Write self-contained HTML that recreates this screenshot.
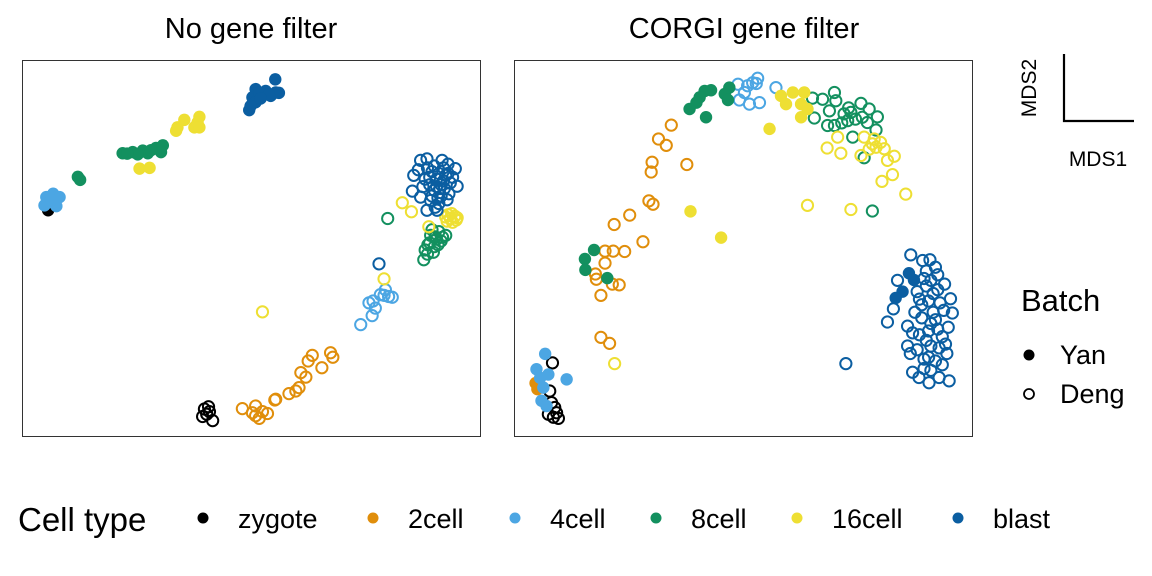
<!DOCTYPE html>
<html><head><meta charset="utf-8"><style>
body{margin:0;background:#fff;}
svg{display:block;font-family:"Liberation Sans",sans-serif;}
</style></head><body>
<svg id="chart" width="1152" height="576" xmlns="http://www.w3.org/2000/svg">
<text x="251" y="38" font-size="29" text-anchor="middle">No gene filter</text>
<text x="744" y="38" font-size="29" text-anchor="middle">CORGI gene filter</text>
<rect x="22.5" y="60.5" width="458" height="376" fill="none" stroke="#333" stroke-width="1"/>
<rect x="514.5" y="60.5" width="458" height="376" fill="none" stroke="#333" stroke-width="1"/>
<g id="left"></g>
<g id="right"></g>
<g>
<path d="M1064 54 V121 H1134" fill="none" stroke="#000" stroke-width="2.2"/>
<text x="1036" y="88" font-size="21" text-anchor="middle" transform="rotate(-90 1036 88)">MDS2</text>
<text x="1098" y="166" font-size="21" text-anchor="middle">MDS1</text>
</g>
<g>
<text x="1021" y="311" font-size="31">Batch</text>
<circle cx="1029" cy="355" r="5.5" fill="#000"/>
<text x="1060" y="364" font-size="27">Yan</text>
<circle cx="1029" cy="394" r="5" fill="none" stroke="#000" stroke-width="1.8"/>
<text x="1060" y="403" font-size="27">Deng</text>
</g>
<g id="ctleg">
<text x="18" y="531" font-size="33">Cell type</text>
</g>
</svg>
<script>
const cellTypes=["zygote","2cell","4cell","8cell","16cell","blast"];
const colors={"zygote":"#000000","2cell":"#E08E0B","4cell":"#4CA6E3","8cell":"#13905F","16cell":"#EEDF33","blast":"#0B5EA1"};
// Left panel (No gene filter), data units 0-100
const leftYan={
 zygote:[[5.5,60.2]],
 "4cell":[[5.1,63.7],[6.6,64.6],[8.0,63.7],[4.7,61.5],[7.3,61.3],[5.8,62.4],[6.2,63.0]],
 "8cell":[[21.8,75.4],[24.0,75.7],[26.2,76.1],[27.3,75.4],[29.1,76.8],[30.6,77.5],[30.2,75.7],[25.1,75.1],[12.0,69.1],[12.5,68.3],[28.0,76.2],[22.8,75.3]],
 "16cell":[[35.3,84.3],[33.8,82.3],[33.5,81.4],[38.6,85.1],[38.2,83.6],[37.5,82.3],[38.6,82.3],[25.5,71.3],[27.7,71.5]],
 blast:[[55.2,95.1],[50.9,92.5],[53.1,92.0],[55.3,91.6],[50.2,90.3],[52.4,91.2],[50.9,89.0],[49.5,86.9],[54.2,90.7],[51.7,91.6],[49.8,88.0],[56.0,91.5],[53.8,91.0],[52.0,90.0]]
};
const leftDeng={
 zygote:[[39.7,7.2],[40.8,6.5],[39.3,5.2],[41.5,4.1],[40.2,5.8],[40.6,7.8]],
 "2cell":[[67.3,22.2],[67.8,21.0],[63.3,21.5],[62.4,20.0],[65.4,18.2],[60.8,16.9],[61.9,15.7],[60.4,12.9],[59.7,12.0],[58.2,11.3],[55.1,9.6],[48.0,7.3],[50.9,8.0],[50.9,5.4],[52.4,6.5],[53.5,6.0],[51.7,4.7],[50.2,6.2],[55.3,9.8]],
 "4cell":[[79.3,39.0],[80.0,37.2],[78.2,37.7],[75.7,35.5],[77.1,34.1],[76.4,32.1],[73.9,29.7],[79.0,37.5],[80.8,37.0],[76.6,36.0]],
 "8cell":[[79.8,58.0],[90.2,53.1],[87.7,47.0],[88.0,49.6],[89.0,51.5],[91.5,52.0],[90.0,50.5],[88.5,48.5],[91.0,54.5],[92.5,53.5],[89.5,55.0],[90.5,52.5],[89.2,53.5],[91.8,53.0],[88.6,51.0],[90.8,51.0],[89.8,49.0]],
 "16cell":[[83.0,62.2],[85.0,59.8],[93.5,58.0],[94.5,58.6],[92.8,57.3],[94.0,57.0],[93.0,59.0],[94.8,57.6],[93.8,59.3],[92.5,58.4],[95.0,58.2],[88.8,55.8],[79.0,41.9],[52.4,33.1]],
 blast:[[87.0,73.5],[88.4,73.9],[85.5,69.5],[85.2,65.3],[87.0,63.7],[88.4,60.2],[90.6,60.2],[94.6,71.3],[95.0,66.6],[91.7,73.5],[91.0,62.0],[93.2,64.6],[89.5,70.5],[90.5,68.5],[91.5,67.0],[92.5,69.5],[89.0,67.0],[90.0,65.5],[92.0,71.5],[93.5,67.5],[88.0,68.5],[86.5,71.0],[90.8,63.5],[89.2,62.8],[91.2,66.0],[93.0,72.5],[87.5,66.5],[90.0,72.0],[91.0,70.0],[92.0,68.0],[93.0,70.0],[89.0,69.0],[90.5,66.5],[92.2,66.0],[91.5,64.0],[89.5,64.0],[88.5,71.5],[92.8,63.0],[94.0,69.0],[90.2,61.0],[77.9,45.9]]
};
// Right panel (CORGI gene filter)
const rightYan={
 "2cell":[[4.5,14.1],[4.9,12.5]],
 "4cell":[[6.6,21.9],[4.7,17.8],[7.3,16.4],[11.3,15.1],[6.2,12.9],[5.8,9.4],[6.9,8.0],[5.5,15.5]],
 "8cell":[[41.5,92.0],[42.9,92.2],[40.4,90.3],[39.7,88.9],[38.2,87.2],[41.8,85.0],[46.9,92.9],[45.9,91.2],[46.6,89.6],[15.3,47.2],[17.3,49.6],[15.4,44.3],[20.2,42.1]],
 "16cell":[[58.2,90.7],[60.8,91.6],[59.3,88.5],[63.3,91.6],[62.6,88.5],[64.0,87.2],[62.6,85.0],[55.7,81.9],[38.4,59.9],[45.1,52.9]],
 blast:[[86.2,43.4],[84.8,38.5],[83.3,36.8],[87.3,41.6]]
};
const rightDeng={
 zygote:[[8.2,19.5],[7.6,12.0],[8.0,8.9],[8.7,7.6],[8.4,5.0],[9.5,4.7],[7.3,5.8],[9.1,6.2]],
 "2cell":[[34.2,82.9],[31.4,79.2],[33.1,77.5],[30.0,73.0],[29.8,70.4],[37.6,72.4],[29.3,62.7],[30.2,61.8],[25.1,58.9],[21.7,56.4],[28.0,51.8],[19.7,49.3],[21.5,49.3],[24.0,49.2],[19.7,46.1],[17.6,43.2],[17.8,41.8],[21.3,40.5],[22.8,40.3],[18.8,37.5],[18.8,26.3],[20.7,24.7]],
 "4cell":[[48.8,93.8],[50.9,93.4],[53.1,95.4],[52.0,94.2],[50.2,91.6],[49.1,89.6],[51.3,88.5],[53.5,88.9],[57.1,92.9],[52.8,94.0]],
 "8cell":[[65.1,90.1],[67.3,89.8],[69.9,91.6],[70.2,89.4],[68.8,86.7],[65.5,84.8],[68.4,82.8],[69.9,82.8],[72.0,85.9],[73.5,86.3],[75.7,88.7],[77.5,87.2],[79.3,85.1],[79.0,81.6],[77.1,83.6],[73.9,79.7],[72.8,84.1],[76.4,74.2],[78.2,60.0],[74.5,84.5],[71.5,83.5],[73.0,87.5],[76.0,85.0]],
 "16cell":[[70.6,79.7],[68.3,76.8],[71.3,75.4],[75.7,74.8],[78.2,77.9],[80.0,78.3],[80.8,76.6],[81.5,73.5],[83.0,74.6],[82.6,69.7],[80.3,67.9],[85.5,64.5],[64.0,61.5],[73.5,60.4],[21.8,19.3],[76.4,79.7],[78.6,79.2],[79.0,77.0],[77.5,76.5]],
 blast:[[86.6,48.3],[89.2,46.8],[83.7,41.5],[82.8,33.9],[81.5,30.4],[72.4,19.3],[95.3,36.6],[95.7,32.8],[85.9,29.3],[85.9,24.0],[88.4,15.6],[90.6,14.2],[95.0,14.7],[92.8,15.6],[90.0,40.0],[91.5,38.0],[93.0,35.5],[89.0,35.0],[92.0,31.0],[90.5,28.0],[93.5,26.5],[91.0,24.0],[88.5,27.0],[94.5,22.0],[92.0,20.0],[89.5,20.5],[87.5,33.0],[88.0,38.5],[92.5,43.0],[94.0,40.5],[86.5,22.0],[91.0,17.5],[90.0,44.0],[94.8,29.0],[87.0,17.0],[89.5,42.0],[91.0,41.5],[92.5,39.0],[88.5,36.5],[90.5,36.0],[93.8,33.5],[91.5,33.0],[89.0,31.5],[92.5,28.5],[90.0,25.5],[92.8,23.5],[88.0,23.0],[90.5,21.0],[93.5,19.0],[91.0,30.0],[87.0,27.5],[89.5,18.0],[92.0,45.0],[90.8,47.0],[94.2,24.5]]
};
const ns="http://www.w3.org/2000/svg";
function xScale(px){return function(v){return px.left+v/100*px.w;};}
function yScale(px){return function(v){return px.top+(100-v)/100*px.h;};}
function drawPanel(gid,box,yan,deng){
 const g=document.getElementById(gid);
 const sx=xScale(box),sy=yScale(box);
 cellTypes.forEach(ct=>{
  (deng[ct]||[]).forEach(p=>{
   const c=document.createElementNS(ns,"circle");
   c.setAttribute("cx",sx(p[0]));c.setAttribute("cy",sy(p[1]));c.setAttribute("r",5.6);
   c.setAttribute("fill","none");c.setAttribute("stroke",colors[ct]);c.setAttribute("stroke-width",2);
   
   
   g.appendChild(c);
  });
 });
 cellTypes.forEach(ct=>{
  (yan[ct]||[]).forEach(p=>{
   const c=document.createElementNS(ns,"circle");
   c.setAttribute("cx",sx(p[0]));c.setAttribute("cy",sy(p[1]));c.setAttribute("r",6.2);
   c.setAttribute("fill",colors[ct]);
   
   
   g.appendChild(c);
  });
 });
}
drawPanel("left",{left:23,top:61,w:457,h:375},leftYan,leftDeng);
drawPanel("right",{left:515,top:61,w:457,h:375},rightYan,rightDeng);
const legX=[203,373,515,656,797,958];
const leg=document.getElementById("ctleg");
cellTypes.forEach((ct,i)=>{
 const c=document.createElementNS(ns,"circle");
 c.setAttribute("cx",legX[i]);c.setAttribute("cy",518);c.setAttribute("r",5.5);c.setAttribute("fill",colors[ct]);
 
 
 leg.appendChild(c);
 const t=document.createElementNS(ns,"text");
 t.setAttribute("x",legX[i]+35);t.setAttribute("y",528);t.setAttribute("font-size","27");
 t.textContent=ct;
 
 
 leg.appendChild(t);
});
</script>
</body></html>
